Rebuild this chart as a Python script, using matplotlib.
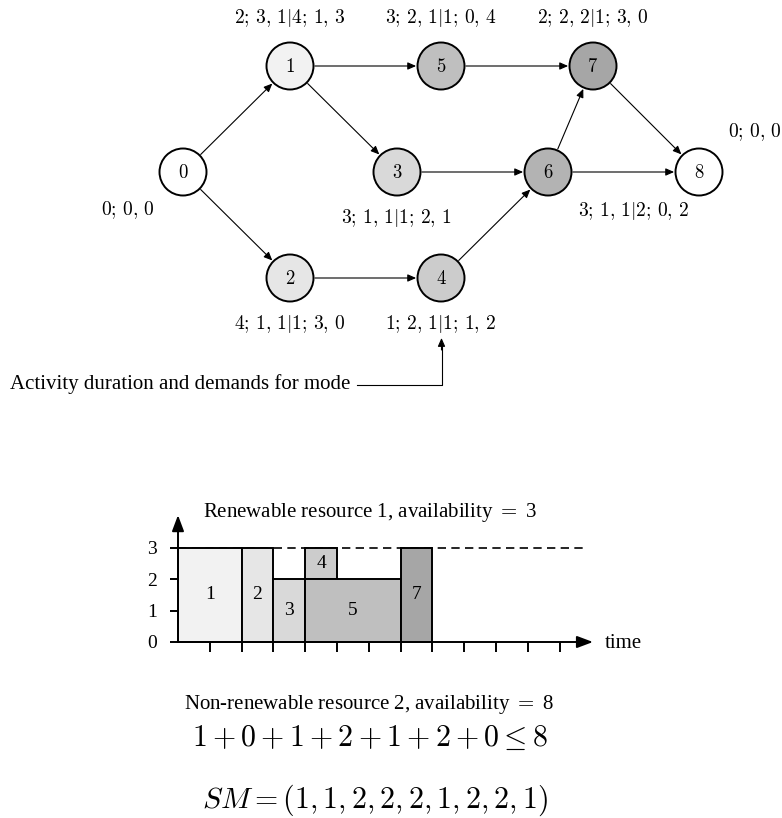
import matplotlib
matplotlib.use("Agg")
import matplotlib.pyplot as plt
from matplotlib.patches import Circle, FancyArrowPatch
import numpy as np

plt.rcParams['mathtext.fontset'] = 'cm'
SERIF = 'Liberation Serif'

# ---- project network data ----
node_ids = [0, 1, 2, 3, 4, 5, 6, 7, 8]
node_gray = [0, 10, 20, 30, 40, 50, 60, 70, 0]   # tikz gray!N
node_labels = ['0; 0, 0', '2; 3, 1|4; 1, 3', '4; 1, 1|1; 3, 0',
               '3; 1, 1|1; 2, 1', '1; 2, 1|1; 1, 2', '3; 2, 1|1; 0, 4',
               '3; 1, 1|2; 0, 2', '2; 2, 2|1; 3, 0', '0; 0, 0']
edges = [(0, 1), (0, 2), (1, 5), (1, 3), (2, 4), (3, 6), (4, 6),
         (5, 7), (6, 7), (6, 8), (7, 8)]

# ---- schedule (renewable resource 1) ----
bar_acts = [1, 2, 3, 4, 5, 7]
bar_start = [0, 2, 3, 4, 4, 7]
bar_dur = [2, 1, 1, 1, 3, 1]
bar_base = [0, 0, 0, 2, 0, 0]
bar_demand = [3, 3, 2, 1, 2, 3]
capacity_r1 = 3
time_ticks = list(range(1, 13))

# ---- non-renewable resource 2 ----
r2_demand = [1, 0, 1, 2, 1, 2, 0]
capacity_r2 = 8
modes = [1, 1, 2, 2, 2, 1, 2, 2, 1]


def gray(p):
    v = 1 - 0.5 * p / 100.0
    return (v, v, v)


def mlabel(s):
    # slightly wider gaps after ; and , like the LaTeX original
    return '$' + s.replace('; ', r';\,').replace(', ', r',\,') + '$'


W, H = 782, 818
fig = plt.figure(figsize=(W / 100, H / 100), dpi=100)
ax = fig.add_axes([0, 0, 1, 1])
ax.set_xlim(0, W)
ax.set_ylim(H, 0)
ax.axis('off')

# layout of the network (pixels)
pos = {0: (183, 172), 1: (290, 66), 2: (290, 278), 3: (397, 172),
       4: (441, 278), 5: (441, 66), 6: (548, 172), 7: (593, 66),
       8: (699, 172)}
lab_pos = {0: (128, 210), 1: (290, 18), 2: (290, 324), 3: (396, 218),
           4: (441, 324), 5: (441, 18), 6: (634, 211), 7: (593, 18),
           8: (755, 132)}
R = 23.5
head = '-|>,head_length=0.5,head_width=0.22'

for n in node_ids:
    x, y = pos[n]
    ax.add_patch(Circle((x, y), R, facecolor=gray(node_gray[n]),
                        edgecolor='black', lw=1.4, zorder=3))
    ax.text(x, y, '$%d$' % n, ha='center', va='center', fontsize=13.5,
            zorder=4)
    lx, ly = lab_pos[n]
    ax.text(lx, ly, mlabel(node_labels[n]), ha='center', va='center',
            fontsize=14)

for a, b in edges:
    (x1, y1), (x2, y2) = pos[a], pos[b]
    d = np.hypot(x2 - x1, y2 - y1)
    ux, uy = (x2 - x1) / d, (y2 - y1) / d
    arr = FancyArrowPatch((x1 + ux * R, y1 + uy * R), (x2 - ux * R, y2 - uy * R),
                          arrowstyle=head, mutation_scale=10, lw=0.8,
                          color='black', shrinkA=1, shrinkB=1, zorder=2)
    ax.add_patch(arr)

# annotation for mode data
ax.text(10, 384, 'Activity duration and demands for mode', ha='left',
        va='center', fontsize=15, family=SERIF)
ax.plot([357, 441.5, 441.5], [385, 385, 345], color='black', lw=0.8)
ax.add_patch(FancyArrowPatch((441.5, 350), (441.5, 338),
                             arrowstyle=head, mutation_scale=10, lw=0.8,
                             color='black', shrinkA=0, shrinkB=0))

# ---- resource profile ----
x0, ux_ = 178, 31.8
y0, uy_ = 642, 31.4
ax2 = fig.add_axes([x0 / W, (H - y0) / H, 13 * ux_ / W, 3 * uy_ / H])
ax2.set_xlim(0, 13)
ax2.set_ylim(0, 3)
ax2.patch.set_alpha(0)
for s in ax2.spines.values():
    s.set_visible(False)

for act, s, d, b, h in zip(bar_acts, bar_start, bar_dur, bar_base, bar_demand):
    ax2.bar(s, h, width=d, bottom=b, align='edge', color=gray(act * 10),
            edgecolor='black', lw=1.4, zorder=3, clip_on=False)
    ax2.text(s + d / 2, b + h / 2, str(act), ha='center', va='center',
             fontsize=14, family=SERIF, zorder=4)

ax2.plot([0, 12.8], [capacity_r1, capacity_r1], color='black', lw=1.2,
         ls=(0, (5, 3.2)), zorder=2, clip_on=False)
axis_arrow = dict(arrowstyle='-|>,head_length=0.8,head_width=0.3',
                  mutation_scale=12, lw=1.4, color='black',
                  shrinkA=0, shrinkB=0)
ax2.annotate('', xy=(13.05, 0), xytext=(0, 0), arrowprops=axis_arrow,
             annotation_clip=False)
ax2.annotate('', xy=(0, 4.04), xytext=(0, 0), arrowprops=axis_arrow,
             annotation_clip=False)

ax2.set_xticks(time_ticks)
ax2.set_xticklabels([])
ax2.set_yticks(range(capacity_r1 + 1))
ax2.set_yticklabels([str(v) for v in range(capacity_r1 + 1)], family=SERIF,
                    fontsize=14)
ax2.tick_params(axis='x', direction='out', length=7, width=1.4)
ax2.tick_params(axis='y', direction='out', length=6, width=1.4, pad=9)

ax.text(605, 643, 'time', ha='left', va='center', fontsize=15, family=SERIF)
ax.text(370, 513, 'Renewable resource %d, availability $=$ %d' % (1, capacity_r1),
        ha='center', va='center', fontsize=15, family=SERIF)

ax.text(369, 705, 'Non-renewable resource %d, availability $=$ %d' % (2, capacity_r2),
        ha='center', va='center', fontsize=15, family=SERIF)
expr = ' + '.join(str(v) for v in r2_demand) + r' \leq ' + str(capacity_r2)
ax.text(370, 738, '$' + expr + '$', ha='center', va='center', fontsize=21.5)
sm = '$SM = (' + ', '.join(str(m) for m in modes) + ')$'
ax.text(375, 800, sm, ha='center', va='center', fontsize=21.5)

fig.savefig('out.png', dpi=100)
